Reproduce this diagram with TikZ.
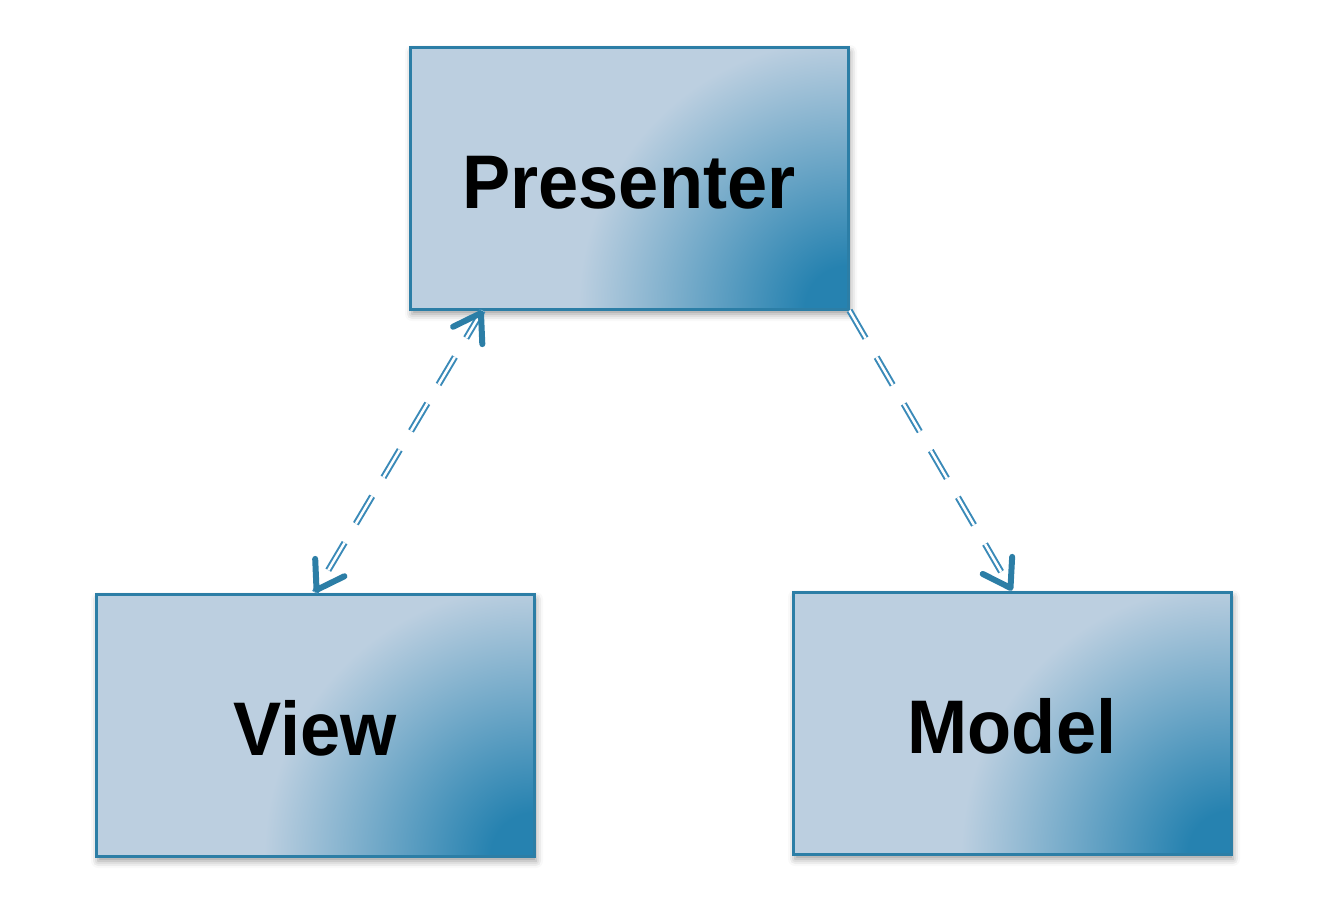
\documentclass[tikz,border=0pt]{standalone}
\usepackage{fontspec}
\setmainfont{Liberation Sans}
\newfontfamily\boxfont[FakeStretch=0.95]{Liberation Sans}
\usetikzlibrary{arrows.meta,calc,shadows.blur}
\definecolor{boxlight}{RGB}{188,207,224}
\definecolor{boxdark}{RGB}{38,130,176}
\definecolor{boxborder}{RGB}{44,126,166}
\definecolor{linkblue}{RGB}{58,138,184}
\pgfdeclareradialshading{boxshade}{\pgfpoint{0bp}{0bp}}{color(0bp)=(boxdark); color(2bp)=(boxdark); color(12.5bp)=(boxlight); color(50bp)=(boxlight)}
\tikzset{
  block/.style={draw=boxborder, line width=3pt, fill=boxlight,
    minimum width=438pt, minimum height=262pt, inner sep=0pt,
    text height=61pt, text depth=0pt,
    font=\boxfont\fontsize{76}{84}\selectfont\bfseries,
    blur shadow={shadow xshift=2pt, shadow yshift=-5pt, shadow blur radius=7pt, shadow opacity=40},
    path picture={\shade[shading=boxshade]
      ($(path picture bounding box.south east)+(-540pt,-540pt)$) rectangle
      ($(path picture bounding box.south east)+(540pt,540pt)$);}},
  link/.style={draw=linkblue, double=white, line width=2pt, double distance=2.5pt,
    dash pattern=on 32pt off 22pt},
  tiponly/.style={draw=boxborder, line width=5pt, dash pattern=on 0pt off 3000pt},
  barb/.tip={Straight Barb[length=26pt, width=34pt, line width=6pt, round]}
}
\begin{document}
\begin{tikzpicture}[x=1pt,y=-1pt]
\useasboundingbox (0,0) rectangle (1334,908);
\node[block] (P) at (629,178) {Presenter};
\node[block] (V) at (315,725) {View};
\node[block] (M) at (1012,723) {Model};
\coordinate (Pv) at ($(P.south west)+(74pt,0pt)$);
\draw[link] (Pv) -- (V.north);
\draw[link] (P.south east) -- (M.north);
\draw[tiponly, barb-barb] (Pv) -- (V.north);
\draw[tiponly, -barb] (P.south east) -- (M.north);
\end{tikzpicture}
\end{document}
